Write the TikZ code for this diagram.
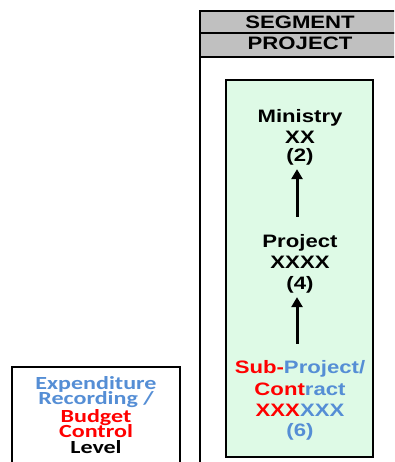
\documentclass[tikz,border=0pt]{standalone}
\usepackage{fontspec}
\newfontfamily\arialx[FakeStretch=1.23]{Liberation Sans}
\newfontfamily\calx[FakeStretch=1.3]{Carlito}
\usetikzlibrary{arrows.meta}
\definecolor{bl}{RGB}{85,142,213}
\definecolor{rd}{RGB}{255,0,0}
\definecolor{gr}{RGB}{222,250,230}
\definecolor{hd}{RGB}{192,192,192}
\tikzset{
  txt/.style={font=\arialx\bfseries\fontsize{18}{20}\selectfont, inner sep=0pt, anchor=base},
  ltxt/.style={font=\calx\bfseries\fontsize{18.5}{16}\selectfont, inner sep=0pt, anchor=base},
  hdr/.style={draw=black, fill=hd, line width=1.5pt},
  arr/.style={line width=3pt, -{Triangle[width=11pt,length=10pt]}}
}
\begin{document}
\begin{tikzpicture}[x=1pt,y=-1pt]
\useasboundingbox (0,0) rectangle (394,462);
\clip (0,0) rectangle (394,462);
% column
\draw[hdr] (200,11) rectangle (410,33);
\draw[hdr] (200,33) rectangle (410,57);
\draw[line width=1.5pt] (200,57) -- (200,475);
\node[txt] (seg) at (300,28.5) {SEGMENT};
\node[txt] (prj) at (300,50) {PROJECT};
% green box
\draw[fill=gr, line width=2pt] (226,80) rectangle (373,457);
\node[txt] (m1) at (300,123) {Ministry};
\node[txt] (m2) at (300,144) {XX};
\node[txt] (m3) at (300,162) {(2)};
\node[txt] (p1) at (300,247) {Project};
\node[txt] (p2) at (300,268) {XXXX};
\node[txt] (p3) at (300,289) {(4)};
\node[txt] (s1) at (300,373) {\textcolor{rd}{Sub-}\textcolor{bl}{Project/}};
\node[txt] (s2) at (300,395) {\textcolor{rd}{Cont}\textcolor{bl}{ract}};
\node[txt] (s3) at (300,416) {\textcolor{rd}{XXX}\textcolor{bl}{XXX}};
\node[txt, text=bl] (s4) at (300,436) {(6)};
\draw[arr, shorten <=17pt, shorten >=3.2pt] ([xshift=-3pt]p1.north) -- ([xshift=-3pt]m3.south);
\draw[arr, shorten <=15.9pt, shorten >=4.2pt] ([xshift=-3pt]s1.north) -- ([xshift=-3pt]p3.south);
% left box
\draw[line width=1.5pt] (12,367) rectangle (180,475);
\node[ltxt, text=bl] (l1) at (96,389) {Expenditure};
\node[ltxt, text=bl] (l2) at (96,404) {Recording /};
\node[ltxt, text=rd] (l3) at (96,422) {Budget};
\node[ltxt, text=rd] (l4) at (96,437) {Control};
\node[ltxt, text=black] (l5) at (96,453) {Level};
\end{tikzpicture}
\end{document}
